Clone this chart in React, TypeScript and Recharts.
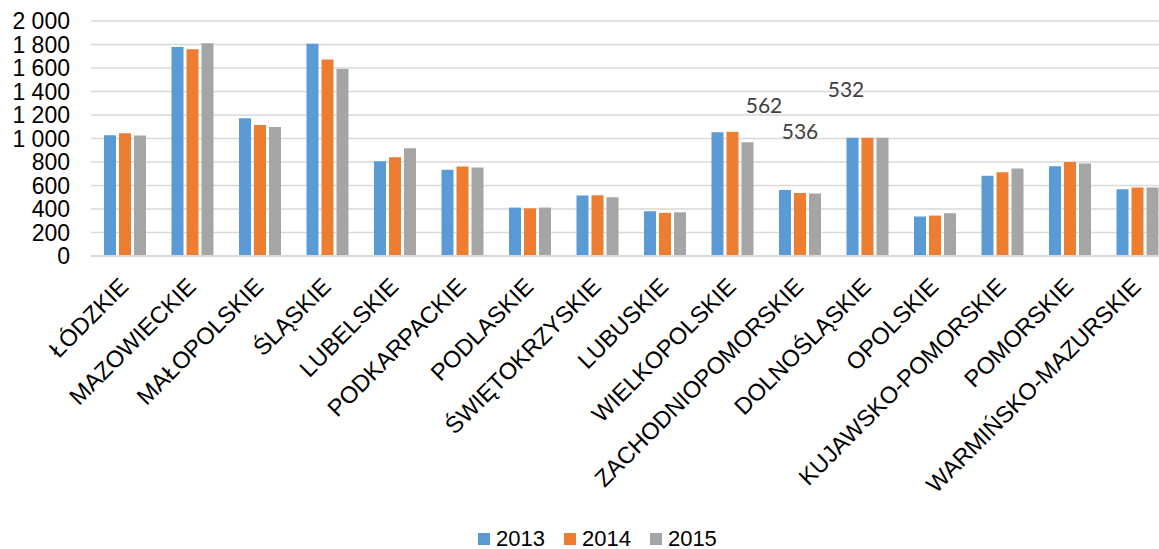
import { BarChart, Bar, XAxis, YAxis, CartesianGrid, Legend, LabelList } from "recharts";

// województwa
const regions = [
  "ŁÓDZKIE",
  "MAZOWIECKIE",
  "MAŁOPOLSKIE",
  "ŚLĄSKIE",
  "LUBELSKIE",
  "PODKARPACKIE",
  "PODLASKIE",
  "ŚWIĘTOKRZYSKIE",
  "LUBUSKIE",
  "WIELKOPOLSKIE",
  "ZACHODNIOPOMORSKIE",
  "DOLNOŚLĄSKIE",
  "OPOLSKIE",
  "KUJAWSKO-POMORSKIE",
  "POMORSKIE",
  "WARMIŃSKO-MAZURSKIE",
];

const values2013 = [1028, 1778, 1173, 1807, 807, 733, 412, 515, 381, 1054, 562, 1006, 336, 682, 764, 568];
const values2014 = [1045, 1759, 1114, 1673, 841, 762, 406, 517, 367, 1057, 536, 1006, 344, 713, 801, 583];
const values2015 = [1026, 1810, 1097, 1591, 918, 753, 412, 500, 372, 969, 532, 1006, 364, 745, 787, 583];

const yTicks = [0, 200, 400, 600, 800, 1000, 1200, 1400, 1600, 1800, 2000];

const SERIES = [
  { key: "2013", color: "#5B9BD5" },
  { key: "2014", color: "#ED7D31" },
  { key: "2015", color: "#A5A5A5" },
];

// the only labelled group, labels were dragged away from the bars
const LABELLED = "ZACHODNIOPOMORSKIE";
const LABEL_SHIFT = [
  { dx: -21, dy: -77 },
  { dx: 0, dy: -54 },
  { dx: 31, dy: -96 },
];

const data = regions.map((name, i) => ({
  name,
  "2013": values2013[i],
  "2014": values2014[i],
  "2015": values2015[i],
}));

const AXIS_FONT = "'Liberation Sans', Arial, sans-serif";

const formatThousands = (v: number) =>
  v >= 1000 ? `${Math.floor(v / 1000)} ${String(v % 1000).padStart(3, "0")}` : String(v);

const RegionTick = (props: any) => {
  const { x, y, payload } = props;
  return (
    <g transform={`translate(${x + 5},${y + 32})`}>
      <text
        textAnchor="end"
        transform="rotate(-45)"
        fontSize={23.5}
        fontFamily={AXIS_FONT}
        fill="#000"
      >
        {payload.value}
      </text>
    </g>
  );
};

const makeLabel = (seriesIndex: number) => (props: any) => {
  const { x, y, width, value, index } = props;
  if (regions[index] !== LABELLED) return null;
  const shift = LABEL_SHIFT[seriesIndex];
  return (
    <text
      x={x + width / 2 + shift.dx}
      y={y + shift.dy}
      textAnchor="middle"
      fontSize={21}
      fontFamily="Lato, 'Open Sans', sans-serif"
      fill="#404040"
    >
      {value}
    </text>
  );
};

const LegendBox = () => (
  <div
    style={{
      height: 30,
      paddingTop: 9,
      boxSizing: "border-box",
      display: "flex",
      fontFamily: AXIS_FONT,
      fontSize: 22,
      lineHeight: "22px",
      color: "#000",
    }}
  >
    {SERIES.map((s) => (
      <div key={s.key} style={{ display: "flex", alignItems: "center", marginRight: 19 }}>
        <span
          style={{ width: 12, height: 12, background: s.color, display: "inline-block", marginRight: 6 }}
        />
        <span>{s.key}</span>
      </div>
    ))}
  </div>
);

export default function App() {
  return (
    <div
      style={{
        position: "absolute",
        left: 0,
        top: 0,
        width: 1159,
        height: 549,
        overflow: "hidden",
        background: "#fff",
      }}
    >
      <BarChart
        width={1180}
        height={549}
        data={data}
        margin={{ top: 21, right: 9, left: 0, bottom: 0 }}
        barCategoryGap={13}
        barGap={3}
      >
        <CartesianGrid vertical={false} stroke="#D9D9D9" strokeWidth={1.6} />
        <XAxis
          dataKey="name"
          interval={0}
          height={263}
          tickSize={0}
          tickMargin={0}
          axisLine={{ stroke: "#D9D9D9", strokeWidth: 2 }}
          tickLine={false}
          tick={<RegionTick />}
        />
        <YAxis
          width={91}
          domain={[0, 2000]}
          ticks={yTicks}
          interval={0}
          axisLine={false}
          tickLine={false}
          tickSize={0}
          tickMargin={21}
          tickFormatter={formatThousands}
          tick={{ fontSize: 23, fontFamily: AXIS_FONT, fill: "#000" }}
        />
        <Legend
          verticalAlign="bottom"
          content={<LegendBox />}
          wrapperStyle={{ left: 478, width: "auto" }}
        />
        {SERIES.map((s, i) => (
          <Bar key={s.key} dataKey={s.key} fill={s.color} isAnimationActive={false}>
            <LabelList dataKey={s.key} content={makeLabel(i)} />
          </Bar>
        ))}
      </BarChart>
    </div>
  );
}
